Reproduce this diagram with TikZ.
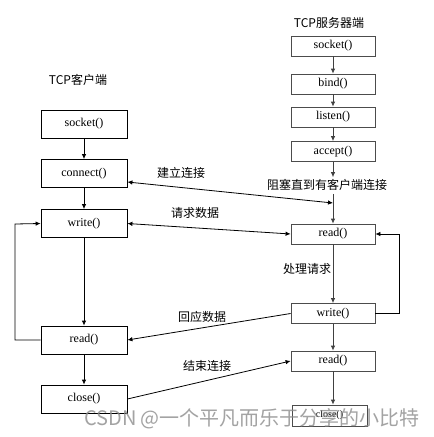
\documentclass[tikz,border=0pt]{standalone}
\usepackage{fontspec}
\setmainfont{Liberation Serif}
\newfontfamily\cjk{Noto Sans CJK SC}
\usetikzlibrary{arrows.meta,calc}
\begin{document}
\begin{tikzpicture}[x=1pt,y=-1pt,
  cbox/.style={draw=black,line width=0.8pt,minimum width=86pt,minimum height=28pt,inner sep=0pt,font=\fontsize{12}{13}\selectfont},
  sbox/.style={draw=black!70,line width=0.8pt,minimum width=84pt,minimum height=20pt,inner sep=0pt,font=\fontsize{12}{13}\selectfont},
  lab/.style={font=\cjk\fontsize{12}{13}\selectfont,inner sep=0pt},
  flow/.style={line width=0.8pt,-{Latex[length=5pt,width=4.5pt]}},
  msg/.style={line width=0.8pt},
  tip/.tip={Latex[length=5pt,width=4.5pt]}]
\useasboundingbox (0,0) rectangle (434,437);
\fill[white] (0,0) rectangle (434,437);
% titles
\node[lab] (ct) at (78,80) {TCP客户端};
\node[lab] (st) at (329,23) {TCP服务器端};
% client boxes
\node[cbox] (csock) at (84,124) {socket()};
\node[cbox] (cconn) at (84,173.5) {connect()};
\node[cbox] (cwrite) at (84,223.5) {write()};
\node[cbox] (cread) at (84,340) {read()};
\node[cbox] (cclose) at (84,399) {close()};
% server boxes
\node[sbox] (ssock) at (333,46) {socket()};
\node[sbox] (sbind) at (333,84) {bind()};
\node[sbox] (slisten) at (333,117) {listen()};
\node[sbox] (saccept) at (333,151.5) {accept()};
\node[lab] (block) at (327,185) {阻塞直到有客户端连接};
\node[sbox] (sread) at (333,234) {read()};
\node[sbox] (swrite) at (333,313.5) {write()};
\node[sbox] (sread2) at (333,361) {read()};
\node[sbox,minimum width=75pt,minimum height=21pt,font=\fontsize{10}{11}\selectfont] (sclose) at (329.5,415.5) {close()};
% labels
\node[lab] (l1) at (181,173) {建立连接};
\node[lab] (l2) at (195,213) {请求数据};
\node[lab] (l3) at (202,317) {回应数据};
\node[lab] (l4) at (207,366) {结束连接};
\node[lab] (l5) at (307,269) {处理请求};
% client flow
\draw[flow] (csock) -- (cconn);
\draw[flow] (cconn) -- (cwrite);
\draw[flow] (cwrite) -- (cread);
\draw[flow] (cread) -- (cclose);
\coordinate (cl1) at (15,340);
\coordinate (cl2) at (15,224);
\draw[flow] (cread.west) -- (cl1) -- (cl2) -- (cwrite.west);
% server flow
\draw[flow,draw=black!75] (ssock) -- (sbind);
\draw[flow,draw=black!75] (sbind) -- (slisten);
\draw[flow,draw=black!75] (slisten) -- (saccept);
\draw[flow,draw=black!75] (saccept.south) -- ($(block.north)+(6,-2)$);
\coordinate (j) at (333,203);
\draw[flow,draw=black!75] ($(block.south)+(6,3)$) -- (sread.north);
\draw[flow,draw=black!75] (sread) -- (swrite);
\draw[flow,draw=black!75] (swrite) -- (sread2);
\draw[flow,draw=black!75] (sread2.south) -- (sclose.north -| sread2.south);
\coordinate (sl1) at (399,313.5);
\coordinate (sl2) at (399,234);
\draw[flow] (swrite.east) -- (sl1) -- (sl2) -- (sread.east);
% messages
\draw[msg,{tip}-{tip}] ([yshift=-8.5pt]cconn.east) -- (j);
\draw[msg,{tip}-{tip}] (cwrite.east) -- (sread.west);
\draw[msg,-{tip}] (swrite.west) -- (cread.east);
\draw[msg,-{tip}] (cclose.east) -- (sread2.west);
% watermark
\node[font=\cjk\fontsize{20}{21}\selectfont,text=black!45,opacity=0.8,inner sep=0pt] (wm) at (252,419) {CSDN @一个平凡而乐于分享的小比特};
\end{tikzpicture}
\end{document}
